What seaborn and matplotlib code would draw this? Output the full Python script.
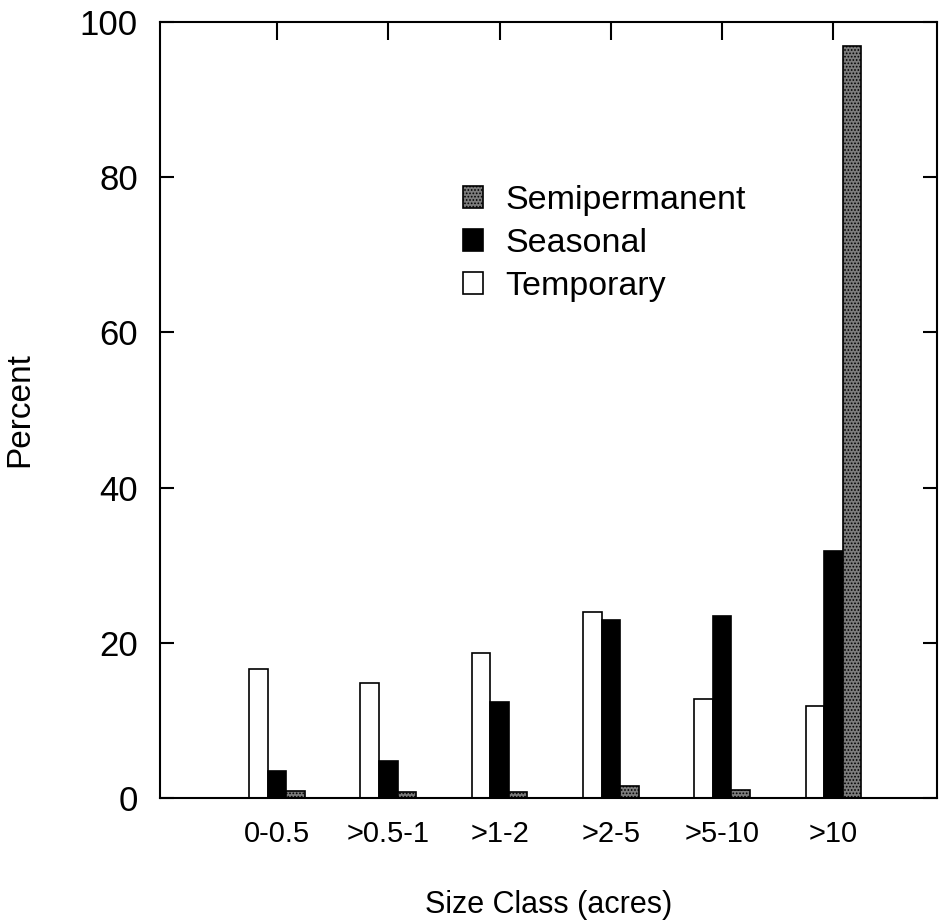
import pandas as pd
import numpy as np
import matplotlib
matplotlib.use('Agg')
import matplotlib.pyplot as plt
import seaborn as sns

# Size classes and percentages
size_classes = ['0-0.5', '>0.5-1', '>1-2', '>2-5', '>5-10', '>10']
temporary = [16.6, 14.8, 18.7, 24.0, 12.8, 11.8]
seasonal = [3.5, 4.8, 12.4, 22.9, 23.5, 31.8]
semipermanent = [0.9, 0.8, 0.8, 1.5, 1.0, 96.9]

wetland_types = ['Temporary', 'Seasonal', 'Semipermanent']
legend_order = ['Semipermanent', 'Seasonal', 'Temporary']

# Long table for seaborn
df = pd.DataFrame({
    'Size Class': size_classes * 3,
    'Type': np.repeat(wetland_types, len(size_classes)),
    'Percent': temporary + seasonal + semipermanent,
})

sns.set_style('ticks')
plt.rcParams['font.family'] = ['Liberation Sans', 'DejaVu Sans']
plt.rcParams['hatch.linewidth'] = 0.8
plt.rcParams['text.color'] = 'black'
plt.rcParams['axes.labelcolor'] = 'black'
plt.rcParams['xtick.color'] = 'black'
plt.rcParams['ytick.color'] = 'black'

fig = plt.figure(figsize=(9.42, 9.21), dpi=100)
ax = fig.add_axes([0.170, 0.1336, 0.8247, 0.8425])

sns.barplot(data=df, x='Size Class', y='Percent', hue='Type', order=size_classes,
            hue_order=wetland_types, width=0.5, ax=ax, legend=True)

# Style bars: white, black, stippled grey
styles = {
    'Temporary': dict(facecolor='white', hatch=None),
    'Seasonal': dict(facecolor='black', hatch=None),
    'Semipermanent': dict(facecolor='#7c7c7c', hatch='.....'),
}
for container, name in zip(ax.containers, wetland_types):
    for bar in container:
        bar.set_facecolor(styles[name]['facecolor'])
        bar.set_edgecolor('black')
        bar.set_linewidth(1.2)
        if styles[name]['hatch']:
            bar.set_hatch(styles[name]['hatch'])

handles, labels = ax.get_legend_handles_labels()
hmap = dict(zip(labels, handles))
for name in wetland_types:
    h = hmap[name]
    h.set_facecolor(styles[name]['facecolor'])
    h.set_edgecolor('black')
    h.set_linewidth(1.2)
    if styles[name]['hatch']:
        h.set_hatch(styles[name]['hatch'])
ax.legend([hmap[n] for n in legend_order], legend_order, frameon=False,
          fontsize=24.5, handlelength=0.6, handleheight=0.6, handletextpad=0.65,
          labelspacing=0.35, loc='upper left', bbox_to_anchor=(0.491, 0.799),
          bbox_transform=fig.transFigure, borderpad=0, borderaxespad=0)

ax.set_xlim(-1.05, 5.93)
ax.set_ylim(0, 100)
ax.set_yticks([0, 20, 40, 60, 80, 100])

for side in ['top', 'right', 'left', 'bottom']:
    ax.spines[side].set_visible(True)
    ax.spines[side].set_linewidth(1.5)
    ax.spines[side].set_color('black')

ax.tick_params(axis='y', which='both', direction='in', left=True, right=True,
               length=10, width=1.5, labelsize=25, pad=16)
ax.tick_params(axis='x', which='both', direction='in', top=True, bottom=False,
               length=13, width=1.5, labelsize=21, pad=16)

ax.set_xlabel('Size Class (acres)', fontsize=22, labelpad=30)
ax.set_ylabel('Percent', fontsize=24, labelpad=32)

fig.savefig('out.png', dpi=100)
